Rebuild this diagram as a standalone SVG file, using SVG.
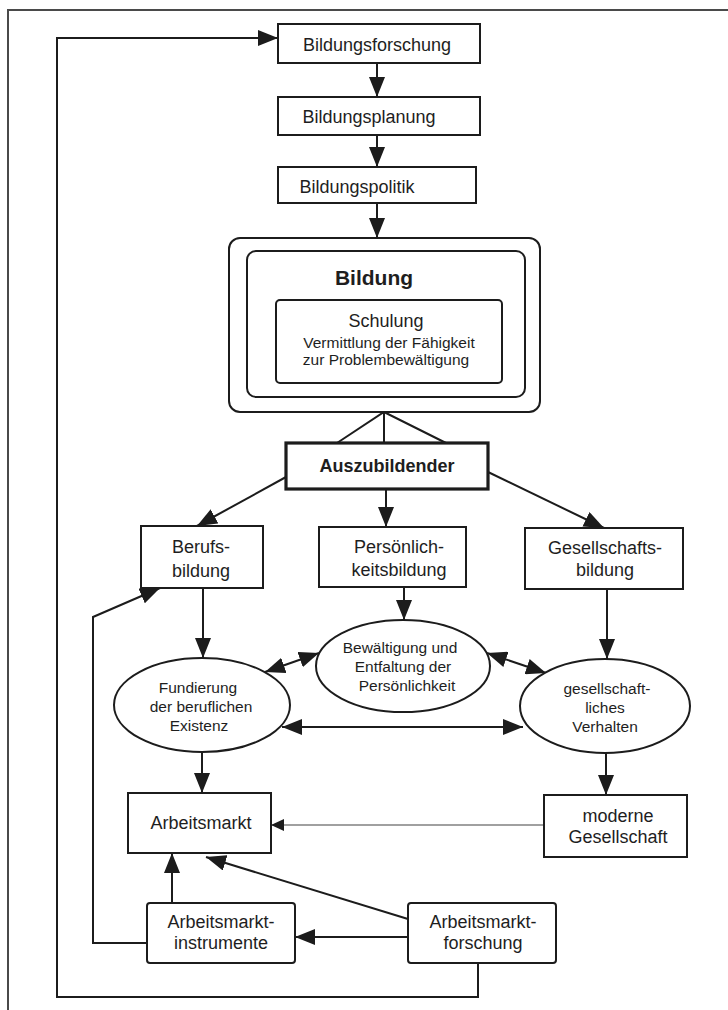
<svg xmlns="http://www.w3.org/2000/svg" width="728" height="1010" viewBox="0 0 728 1010">
  <style>
    .box { fill: #fff; stroke: #1c1c1c; stroke-width: 2; }
    .thick { fill: #fff; stroke: #1c1c1c; stroke-width: 3.2; }
    .line { fill: none; stroke: #1c1c1c; stroke-width: 2; }
    .thin { fill: none; stroke: #808080; stroke-width: 1.4; }
    .t { font-family: "Liberation Sans", Arial, Helvetica, sans-serif; fill: #1e1e1e; text-anchor: middle; }
    .b18 { font-size: 18px; }
    .s15 { font-size: 15.5px; }
    .bold { font-weight: bold; }
  </style>
  <defs>
    <marker id="ah" viewBox="0 0 20 16" refX="20" refY="8" markerWidth="20" markerHeight="16" markerUnits="userSpaceOnUse" orient="auto-start-reverse">
      <path d="M0,0 L20,8 L0,16 z" fill="#1c1c1c"/>
    </marker>
    <marker id="ahs" viewBox="0 0 13 12" refX="13" refY="6" markerWidth="13" markerHeight="12" markerUnits="userSpaceOnUse" orient="auto">
      <path d="M0,0 L13,6 L0,12 z" fill="#1c1c1c"/>
    </marker>
  </defs>

  <rect width="728" height="1010" fill="#fff"/>

  <!-- page frame -->
  <path d="M8,1010 V10 H728" fill="none" stroke="#4a4a4a" stroke-width="2"/>

  <g id="connectors">
    <!-- chain of education -->
    <line class="line" x1="377" y1="63" x2="377" y2="97" marker-end="url(#ah)"/>
    <line class="line" x1="377" y1="135" x2="377" y2="167" marker-end="url(#ah)"/>
    <line class="line" x1="377" y1="203" x2="377" y2="238" marker-end="url(#ah)"/>
    <!-- Bildung to Auszubildender -->
    <path class="line" d="M337,443 L384,412 L446,443 M384,412 V443"/>
    <!-- Auszubildender branches -->
    <line class="line" x1="286" y1="477" x2="197" y2="526" marker-end="url(#ah)"/>
    <line class="line" x1="386" y1="489" x2="386" y2="527" marker-end="url(#ah)"/>
    <line class="line" x1="488" y1="472" x2="604" y2="528" marker-end="url(#ah)"/>
    <!-- boxes to ellipses -->
    <line class="line" x1="203" y1="588" x2="203" y2="658" marker-end="url(#ah)"/>
    <line class="line" x1="404" y1="587" x2="404" y2="620" marker-end="url(#ah)"/>
    <line class="line" x1="607" y1="589" x2="607" y2="659" marker-end="url(#ah)"/>
    <!-- mutual links between the ellipses -->
    <line class="line" x1="265" y1="672" x2="319" y2="653" marker-start="url(#ah)" marker-end="url(#ah)"/>
    <line class="line" x1="487" y1="653" x2="546" y2="673" marker-start="url(#ah)" marker-end="url(#ah)"/>
    <line class="line" x1="282" y1="727" x2="523" y2="727" marker-start="url(#ah)" marker-end="url(#ah)"/>
    <!-- ellipses to lower boxes -->
    <line class="line" x1="202" y1="752" x2="202" y2="793" marker-end="url(#ah)"/>
    <line class="line" x1="606" y1="753" x2="606" y2="795" marker-end="url(#ah)"/>
    <!-- moderne Gesellschaft to Arbeitsmarkt -->
    <line class="thin" x1="544" y1="825" x2="271" y2="825" marker-end="url(#ahs)"/>
    <!-- labour market research and instruments -->
    <line class="line" x1="172" y1="903" x2="172" y2="853" marker-end="url(#ah)"/>
    <line class="line" x1="408" y1="919" x2="206" y2="857" marker-end="url(#ah)"/>
    <line class="line" x1="408" y1="937" x2="295" y2="937" marker-end="url(#ah)"/>
    <!-- feedback to Berufsbildung -->
    <path class="line" d="M147,943 H93 V617 L160,588" marker-end="url(#ah)"/>
    <!-- outer loop back to Bildungsforschung -->
    <path class="line" d="M478,963 V997 H57 V38 H278" marker-end="url(#ah)"/>
  </g>

  <g id="bildungsforschung">
    <rect class="box" x="278" y="24" width="202" height="39"/>
    <text class="t b18" x="377" y="51">Bildungsforschung</text>
  </g>
  <g id="bildungsplanung">
    <rect class="box" x="278" y="97" width="202" height="38"/>
    <text class="t b18" x="369" y="123">Bildungsplanung</text>
  </g>
  <g id="bildungspolitik">
    <rect class="box" x="278" y="167" width="198" height="36"/>
    <text class="t b18" x="357" y="193">Bildungspolitik</text>
  </g>

  <g id="bildung">
    <rect class="box" x="229" y="238" width="311" height="174" rx="11"/>
    <rect class="box" x="247" y="251" width="278" height="146" rx="9"/>
    <text class="t bold" x="374" y="285" font-size="21">Bildung</text>
  </g>
  <g id="schulung">
    <rect class="box" x="276" y="300" width="226" height="83" rx="4"/>
    <text class="t b18" x="386" y="327">Schulung</text>
    <text class="t s15" x="389" y="348">Vermittlung der Fähigkeit</text>
    <text class="t s15" x="386" y="365">zur Problembewältigung</text>
  </g>

  <g id="auszubildender">
    <rect class="thick" x="286" y="443" width="202" height="46"/>
    <text class="t b18 bold" x="387" y="472">Auszubildender</text>
  </g>

  <g id="berufsbildung">
    <rect class="box" x="141" y="526" width="122" height="62"/>
    <text class="t b18" x="201" y="553">Berufs-</text>
    <text class="t b18" x="201" y="577">bildung</text>
  </g>
  <g id="persoenlichkeitsbildung">
    <rect class="box" x="319" y="527" width="147" height="60"/>
    <text class="t b18" x="399" y="553">Persönlich-</text>
    <text class="t b18" x="399" y="576">keitsbildung</text>
  </g>
  <g id="gesellschaftsbildung">
    <rect class="box" x="525" y="528" width="158" height="61"/>
    <text class="t b18" x="605" y="554">Gesellschafts-</text>
    <text class="t b18" x="605" y="576">bildung</text>
  </g>

  <g id="fundierung">
    <ellipse class="box" cx="202" cy="705" rx="88" ry="47"/>
    <text class="t s15" x="198" y="693">Fundierung</text>
    <text class="t s15" x="201" y="712">der beruflichen</text>
    <text class="t s15" x="199" y="731">Existenz</text>
  </g>
  <g id="bewaeltigung">
    <ellipse class="box" cx="403" cy="666" rx="87" ry="46"/>
    <text class="t s15" x="400" y="653">Bewältigung und</text>
    <text class="t s15" x="403" y="672">Entfaltung der</text>
    <text class="t s15" x="407" y="691">Persönlichkeit</text>
  </g>
  <g id="gesellschaftliches-verhalten">
    <ellipse class="box" cx="605" cy="706" rx="85" ry="47"/>
    <text class="t s15" x="607" y="694">gesellschaft-</text>
    <text class="t s15" x="605" y="713">liches</text>
    <text class="t s15" x="605" y="732">Verhalten</text>
  </g>

  <g id="arbeitsmarkt">
    <rect class="box" x="128" y="793" width="143" height="60"/>
    <text class="t b18" x="201" y="829">Arbeitsmarkt</text>
  </g>
  <g id="moderne-gesellschaft">
    <rect class="box" x="544" y="795" width="143" height="62"/>
    <text class="t b18" x="618" y="822">moderne</text>
    <text class="t b18" x="618" y="843">Gesellschaft</text>
  </g>
  <g id="arbeitsmarktinstrumente">
    <rect class="box" x="147" y="903" width="148" height="60" rx="3"/>
    <text class="t b18" x="221" y="928">Arbeitsmarkt-</text>
    <text class="t b18" x="221" y="949">instrumente</text>
  </g>
  <g id="arbeitsmarktforschung">
    <rect class="box" x="408" y="903" width="148" height="60" rx="3"/>
    <text class="t b18" x="483" y="928">Arbeitsmarkt-</text>
    <text class="t b18" x="483" y="949">forschung</text>
  </g>
</svg>
